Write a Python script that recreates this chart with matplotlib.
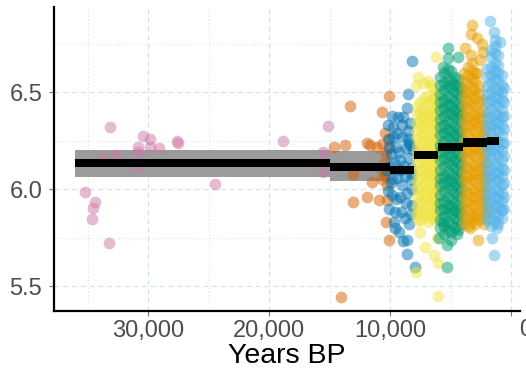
import numpy as np
import matplotlib
matplotlib.use("Agg")
import matplotlib.pyplot as plt
import matplotlib.transforms as mtransforms

plt.rcParams['font.family'] = ['Liberation Sans', 'DejaVu Sans']

# --- period summaries (start, end in years BP, mean, CI) ---
per_start = [36000, 15000, 10000, 8000, 6000, 4000, 2000]
per_end = [15000, 10000, 8000, 6000, 4000, 2000, 1000]
per_mean = [6.134, 6.115, 6.098, 6.175, 6.218, 6.241, 6.247]
per_lo = [6.063, 6.040, 6.075, 6.160, 6.205, 6.230, 6.235]
per_hi = [6.200, 6.195, 6.120, 6.190, 6.230, 6.252, 6.260]

colors = ['#CC79A7', '#D55E00', '#0072B2', '#F0E442', '#009E73', '#E69F00', '#56B4E9']

# --- individual points ---
pink_year = [35190, 34360, 34530, 34610, 33210, 33120, 33700, 32630, 30810, 30810,
             30400, 29820, 29820, 29080, 30890, 27590, 27510, 24450, 18830, 15120,
             15530, 15530]
pink_val = [5.985, 5.933, 5.902, 5.845, 5.72, 6.32, 6.155, 6.175, 6.19, 6.217,
            6.273, 6.26, 6.215, 6.21, 6.115, 6.25, 6.24, 6.025, 6.25, 6.325,
            6.19, 6.088]

verm_year = [10080, 13300, 10660, 14620, 13710, 11890, 11650, 11070, 10660, 10410,
             13050, 11480, 10660, 11890, 13050, 10900, 10240, 10330, 10080, 14040,
             10300, 10150, 10500, 10250, 10100, 10700, 10350]
verm_val = [6.48, 6.43, 6.40, 6.22, 6.23, 6.24, 6.227, 6.217, 6.235, 6.29,
            6.077, 6.036, 6.05, 5.96, 5.933, 5.943, 5.943, 5.83, 5.737, 5.443,
            6.18, 6.26, 6.13, 6.02, 6.21, 6.10, 6.07]

dblue_year = [8180, 8510, 8590, 9830, 9330, 9750, 8920, 8340, 8510, 9000,
              9750, 10160, 10080, 9500, 8700, 9900, 8400, 10000, 9200, 8300,
              9800, 9000, 10200, 8600, 9500, 8200, 10050, 9100, 8800, 9700,
              8400, 9300, 8600, 8900, 8600, 7950, 9600, 10300, 8100, 8200,
              8450, 9150, 8750, 9400, 8250, 9950, 9650, 9250, 8850, 8550,
              8300, 10100, 9850, 9450, 9050, 8650, 8350, 8150, 9550, 9150]
dblue_val = [6.66, 6.49, 6.42, 6.38, 6.37, 6.32, 6.37, 6.34, 6.30, 6.27,
             6.27, 6.33, 6.26, 6.22, 6.21, 6.18, 6.16, 6.12, 6.10, 6.05,
             6.05, 6.02, 5.99, 5.98, 5.95, 5.92, 5.90, 5.88, 5.85, 5.83,
             5.82, 5.78, 5.74, 5.73, 5.665, 5.60, 5.80, 6.10, 6.20, 6.00,
             6.24, 6.15, 6.07, 6.29, 5.87, 6.03, 6.14, 6.19, 6.12, 6.26,
             6.11, 6.22, 5.97, 6.06, 6.33, 5.93, 6.23, 6.08, 5.88, 5.96]

yell_cols = [7800, 7500, 7200, 6900, 6600, 6300, 6100]
yell_core = [
    [5.87, 5.91, 5.96, 6.00, 6.04, 6.09, 6.13, 6.17, 6.21, 6.26, 6.30, 6.34, 6.39, 6.43],
    [5.84, 5.88, 5.93, 5.97, 6.01, 6.06, 6.10, 6.14, 6.19, 6.23, 6.27, 6.32, 6.36, 6.40, 6.45],
    [5.86, 5.90, 5.95, 5.99, 6.03, 6.08, 6.12, 6.16, 6.20, 6.25, 6.29, 6.33, 6.38, 6.42, 6.47],
    [5.83, 5.87, 5.92, 5.96, 6.00, 6.05, 6.09, 6.13, 6.18, 6.22, 6.26, 6.31, 6.35, 6.39, 6.44, 6.48],
    [5.85, 5.89, 5.94, 5.98, 6.02, 6.07, 6.11, 6.15, 6.20, 6.24, 6.28, 6.33, 6.37, 6.41, 6.46],
    [5.84, 5.88, 5.93, 5.97, 6.01, 6.06, 6.10, 6.14, 6.19, 6.23, 6.27, 6.32, 6.36, 6.40, 6.45, 6.49],
    [5.86, 5.91, 5.95, 6.00, 6.04, 6.08, 6.13, 6.17, 6.21, 6.26, 6.30, 6.34, 6.39, 6.43, 6.47],
]
yell_out_year = [6200, 7700, 6900, 7250, 7850, 6600, 6450, 7100, 6400, 6050,
                 7850, 6050, 7500, 7700, 6150]
yell_out_val = [6.68, 6.58, 6.56, 6.55, 6.53, 6.54, 6.52, 5.70, 5.66, 5.62,
                5.57, 5.45, 5.78, 5.84, 5.75]

green_cols = [5850, 5550, 5250, 4950, 4650, 4350, 4150]
green_core = [
    [5.80, 5.84, 5.89, 5.93, 5.97, 6.02, 6.06, 6.10, 6.15, 6.19, 6.23, 6.28, 6.32, 6.36, 6.41, 6.45, 6.49, 6.54, 6.58],
    [5.77, 5.81, 5.86, 5.90, 5.94, 5.99, 6.03, 6.07, 6.12, 6.16, 6.20, 6.25, 6.29, 6.33, 6.38, 6.42, 6.46, 6.51, 6.55, 6.60],
    [5.79, 5.83, 5.88, 5.92, 5.96, 6.01, 6.05, 6.09, 6.14, 6.18, 6.22, 6.27, 6.31, 6.35, 6.40, 6.44, 6.48, 6.53, 6.57, 6.62],
    [5.78, 5.82, 5.87, 5.91, 5.95, 6.00, 6.04, 6.08, 6.13, 6.17, 6.21, 6.26, 6.30, 6.34, 6.39, 6.43, 6.47, 6.52, 6.56, 6.61],
    [5.80, 5.85, 5.89, 5.93, 5.98, 6.02, 6.06, 6.11, 6.15, 6.19, 6.24, 6.28, 6.32, 6.37, 6.41, 6.45, 6.50, 6.54, 6.58],
    [5.79, 5.84, 5.88, 5.92, 5.97, 6.01, 6.05, 6.10, 6.14, 6.18, 6.23, 6.27, 6.31, 6.36, 6.40, 6.44, 6.49, 6.53, 6.57],
    [5.82, 5.87, 5.91, 5.96, 6.00, 6.04, 6.09, 6.13, 6.17, 6.22, 6.26, 6.30, 6.35, 6.39, 6.43, 6.48, 6.52],
]
green_out_year = [5200, 5250, 4400, 5650, 5300, 5300, 4450, 5950, 5000, 5600]
green_out_val = [6.73, 6.675, 6.68, 6.63, 5.60, 5.71, 5.77, 5.75, 5.74, 5.83]

orng_cols = [3850, 3550, 3250, 2950, 2650, 2350, 2150]
orng_core = [
    [5.82, 5.86, 5.91, 5.95, 5.99, 6.04, 6.08, 6.12, 6.17, 6.21, 6.25, 6.30, 6.34, 6.38, 6.43, 6.47, 6.51, 6.56, 6.60],
    [5.81, 5.85, 5.90, 5.94, 5.98, 6.03, 6.07, 6.11, 6.16, 6.20, 6.24, 6.29, 6.33, 6.37, 6.42, 6.46, 6.50, 6.55, 6.59, 6.63],
    [5.83, 5.87, 5.92, 5.96, 6.00, 6.05, 6.09, 6.13, 6.18, 6.22, 6.26, 6.31, 6.35, 6.39, 6.44, 6.48, 6.52, 6.57, 6.61, 6.65],
    [5.82, 5.86, 5.91, 5.95, 5.99, 6.04, 6.08, 6.12, 6.17, 6.21, 6.25, 6.30, 6.34, 6.38, 6.43, 6.47, 6.51, 6.56, 6.60],
    [5.84, 5.88, 5.93, 5.97, 6.01, 6.06, 6.10, 6.14, 6.19, 6.23, 6.27, 6.32, 6.36, 6.40, 6.45, 6.49, 6.53],
    [5.85, 5.89, 5.94, 5.98, 6.02, 6.07, 6.11, 6.15, 6.20, 6.24, 6.28, 6.33, 6.37, 6.41, 6.46],
    [5.87, 5.92, 5.96, 6.01, 6.05, 6.09, 6.14, 6.18, 6.23, 6.27, 6.31],
]
orng_out_year = [3200, 3350, 2800, 2400, 3800, 2300, 2550, 3350, 2800, 2700, 2000, 3150, 3400, 2200]
orng_out_val = [6.845, 6.80, 6.78, 6.75, 6.73, 6.71, 6.665, 6.69, 6.60, 5.74, 5.90, 5.856, 5.80, 5.82]

lblue_cols = [1950, 1650, 1350, 1050, 750, 550]
lblue_core = [
    [5.84, 5.88, 5.93, 5.97, 6.01, 6.06, 6.10, 6.14, 6.19, 6.23, 6.27, 6.32, 6.36, 6.40, 6.45, 6.49, 6.53, 6.58, 6.62],
    [5.81, 5.85, 5.90, 5.94, 5.98, 6.03, 6.07, 6.11, 6.16, 6.20, 6.24, 6.29, 6.33, 6.37, 6.42, 6.46, 6.50, 6.55, 6.59, 6.63, 6.68, 6.72],
    [5.83, 5.87, 5.92, 5.96, 6.00, 6.05, 6.09, 6.13, 6.18, 6.22, 6.26, 6.31, 6.35, 6.39, 6.44, 6.48, 6.52, 6.57, 6.61, 6.65, 6.70, 6.74],
    [5.82, 5.86, 5.91, 5.95, 5.99, 6.04, 6.08, 6.12, 6.17, 6.21, 6.25, 6.30, 6.34, 6.38, 6.43, 6.47, 6.51, 6.56, 6.60, 6.64, 6.69],
    [5.85, 5.89, 5.94, 5.98, 6.02, 6.07, 6.11, 6.15, 6.20, 6.24, 6.28, 6.33, 6.37, 6.41, 6.46, 6.50, 6.54, 6.59],
    [5.90, 5.96, 6.03, 6.10, 6.17, 6.24, 6.31, 6.38, 6.45, 6.52],
]
lblue_out_year = [1700, 1450, 1300, 1450, 1550, 1150, 900, 800]
lblue_out_val = [6.87, 6.81, 6.77, 5.66, 5.75, 5.80, 6.76, 5.90]


def flatten(cols, core, out_year, out_val):
    yrs, vals = [], []
    for c, vs in zip(cols, core):
        yrs += [c] * len(vs)
        vals += vs
    return yrs + out_year, vals + out_val


groups = [(pink_year, pink_val), (verm_year, verm_val), (dblue_year, dblue_val),
          flatten(yell_cols, yell_core, yell_out_year, yell_out_val),
          flatten(green_cols, green_core, green_out_year, green_out_val),
          flatten(orng_cols, orng_core, orng_out_year, orng_out_val),
          flatten(lblue_cols, lblue_core, lblue_out_year, lblue_out_val)]

xticks = [30000, 20000, 10000, 0]
xticklabels = ['30,000', '20,000', '10,000', '']
yticks = [5.5, 6.0, 6.5]

fig = plt.figure(figsize=(5.26, 3.78), dpi=100)
ax = fig.add_axes([0.1027, 0.1772, 0.886, 0.8043])

# grey CI bands
for s, e, lo, hi in zip(per_start, per_end, per_lo, per_hi):
    ax.fill_between([s, e], lo, hi, color='#9b9b9b', lw=0, zorder=1)

# points
for (yr, v), c in zip(groups, colors):
    ax.scatter(yr, v, s=72, color=c, alpha=0.5, lw=0, zorder=2)

# mean bars
for s, e, m in zip(per_start, per_end, per_mean):
    ax.fill_between([s, e], m - 0.021, m + 0.021, color='black', lw=0, zorder=3)

ax.set_xlim(37770, -744)
ax.set_ylim(5.371, 6.94)

ax.set_xticks(xticks)
ax.set_xticklabels(xticklabels)
ax.set_xticks([35000, 25000, 15000, 5000], minor=True)
ax.set_yticks(yticks)
ax.set_yticklabels(['5.5', '6.0', '6.5'])
ax.set_yticks([5.75, 6.25, 6.75], minor=True)

ax.grid(which='major', color='#d3e2e9', lw=0.9, ls=(0, (4, 3)), zorder=0)
ax.grid(which='minor', color='#d9e6ec', lw=0.8, ls=(0, (1.2, 2.2)), zorder=0)
ax.set_axisbelow(True)

for sp in ['top', 'right']:
    ax.spines[sp].set_visible(False)
for sp in ['left', 'bottom']:
    ax.spines[sp].set_linewidth(1.6)
    ax.spines[sp].set_color('black')

ax.tick_params(which='major', length=3.5, width=0.8, color='#777777',
               labelsize=17, labelcolor='#4d4d4d', pad=3)
ax.tick_params(axis='y', which='major', pad=5)
ax.tick_params(which='minor', length=0)

# the "0" label sits shifted to the right in the original, half cut off
zero_tr = mtransforms.blended_transform_factory(ax.transData, ax.transAxes) + \
    mtransforms.ScaledTranslation(15 / 100, 0, fig.dpi_scale_trans)
ax.text(0, -0.025, '0', transform=zero_tr, ha='center', va='top',
        fontsize=17, color='#4d4d4d', clip_on=False)

ax.set_xlabel('Years BP', fontsize=20.5, color='black', labelpad=1)

fig.savefig('out.png', dpi=100)
